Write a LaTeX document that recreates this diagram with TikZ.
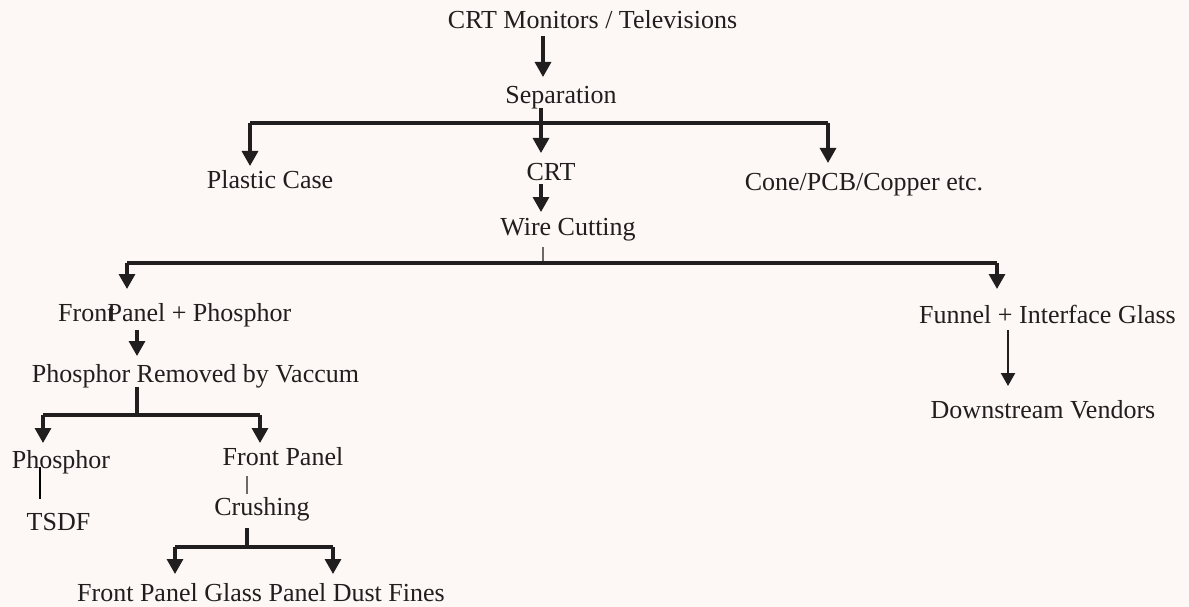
\documentclass[tikz,border=0pt]{standalone}
\usepackage{fontspec}
\setmainfont{Liberation Serif}
\usetikzlibrary{arrows.meta}
\definecolor{bg}{RGB}{253,247,245}
\definecolor{ink}{RGB}{32,30,30}
\definecolor{thin}{RGB}{110,105,105}
\begin{document}
\begin{tikzpicture}[x=1pt,y=-1pt,
  lbl/.style={inner sep=0pt, text=ink, anchor=base, font=\fontsize{26}{31}\selectfont},
  arr/.style={draw=ink, line width=3.2pt, -{Triangle[width=16pt,length=15pt]}},
  thinarr/.style={draw=ink, line width=2.2pt, -{Triangle[width=14pt,length=13pt]}},
  ln/.style={draw=ink, line width=3.2pt},
  thinln/.style={draw=thin, line width=2.2pt},
  blackln/.style={draw=black, line width=2.8pt}]
\fill[bg] (0,0) rectangle (1189,607);
\useasboundingbox (0,0) rectangle (1189,607);

% nodes
\node[lbl] (crtmon) at (592.5,29) {CRT Monitors / Televisions};
\node[lbl] (sep) at (561,104) {Separation};
\node[lbl] (plastic) at (270,188) {Plastic Case};
\node[lbl] (crt) at (551,181) {CRT};
\node[lbl] (cone) at (864,190) {Cone/PCB/Copper etc.};
\node[lbl] (wire) at (568,235) {Wire Cutting};
\node[lbl, anchor=base west] (fpp) at (58,321) {Front\kern-7pt Panel + Phosphor};
\node[lbl] (prv) at (195.5,382) {Phosphor Removed by Vaccum};
\node[lbl] (phos) at (61,468) {Phosphor};
\node[lbl] (fp) at (283,465) {Front Panel};
\node[lbl] (tsdf) at (58.5,530) {TSDF};
\node[lbl] (crush) at (262,515) {Crushing};
\node[lbl] (fines) at (261,601) {Front Panel Glass Panel Dust Fines};
\node[lbl] (funnel) at (1047.5,323) {Funnel + Interface Glass};
\node[lbl] (down) at (1043,418) {Downstream Vendors};

% junction coordinates
\coordinate (a1s) at (543,36);
\coordinate (a1e) at (543,77);
\coordinate (sepS) at (541,108);
\coordinate (j1) at (541,123);
\coordinate (j1l) at (250,123);
\coordinate (j1r) at (828,123);
\coordinate (pcT) at (250,166);
\coordinate (crtT) at (541,153);
\coordinate (coneT) at (828,163);
\coordinate (crtS) at (541,184);
\coordinate (wireT) at (541,212);
\coordinate (wireS) at (543,247);
\coordinate (j2) at (543,263);
\coordinate (j2l) at (127,263);
\coordinate (j2r) at (997,263);
\coordinate (fppT) at (127,289);
\coordinate (funT) at (997,289);
\coordinate (fppS) at (137,330);
\coordinate (prvT) at (137,356);
\coordinate (prvS) at (137,387);
\coordinate (j3) at (137,415);
\coordinate (j3l) at (43,415);
\coordinate (j3r) at (260,415);
\coordinate (phosT) at (43,443);
\coordinate (fpT) at (260,443);
\coordinate (phosS) at (40,467);
\coordinate (tsdfT) at (40,499);
\coordinate (fpS) at (247,476);
\coordinate (crushT) at (247,494);
\coordinate (crushS) at (247,528);
\coordinate (j4) at (247,547);
\coordinate (j4l) at (175,547);
\coordinate (j4r) at (333,547);
\coordinate (finesTl) at (175,574);
\coordinate (finesTr) at (333,574);
\coordinate (funS) at (1008,330);
\coordinate (downT) at (1008,386);

% connectors
\draw[arr] (a1s) -- (a1e);
\draw[ln] (j1l) -- (j1r);
\draw[arr] (j1l) -- (pcT);
\draw[arr] (sepS) -- (crtT);
\draw[arr] (j1r) -- (coneT);
\draw[arr] (crtS) -- (wireT);
\draw[thinln] (wireS) -- (j2);
\draw[ln] (j2l) -- (j2r);
\draw[arr] (j2l) -- (fppT);
\draw[arr] (j2r) -- (funT);
\draw[arr] (fppS) -- (prvT);
\draw[ln] (prvS) -- (j3);
\draw[ln] (j3l) -- (j3r);
\draw[arr] (j3l) -- (phosT);
\draw[arr] (j3r) -- (fpT);
\draw[blackln] (phosS) -- (tsdfT);
\draw[thinln] (fpS) -- (crushT);
\draw[ln] (crushS) -- (j4);
\draw[ln] (j4l) -- (j4r);
\draw[arr] (j4l) -- (finesTl);
\draw[arr] (j4r) -- (finesTr);
\draw[thinarr] (funS) -- (downT);
\end{tikzpicture}
\end{document}
